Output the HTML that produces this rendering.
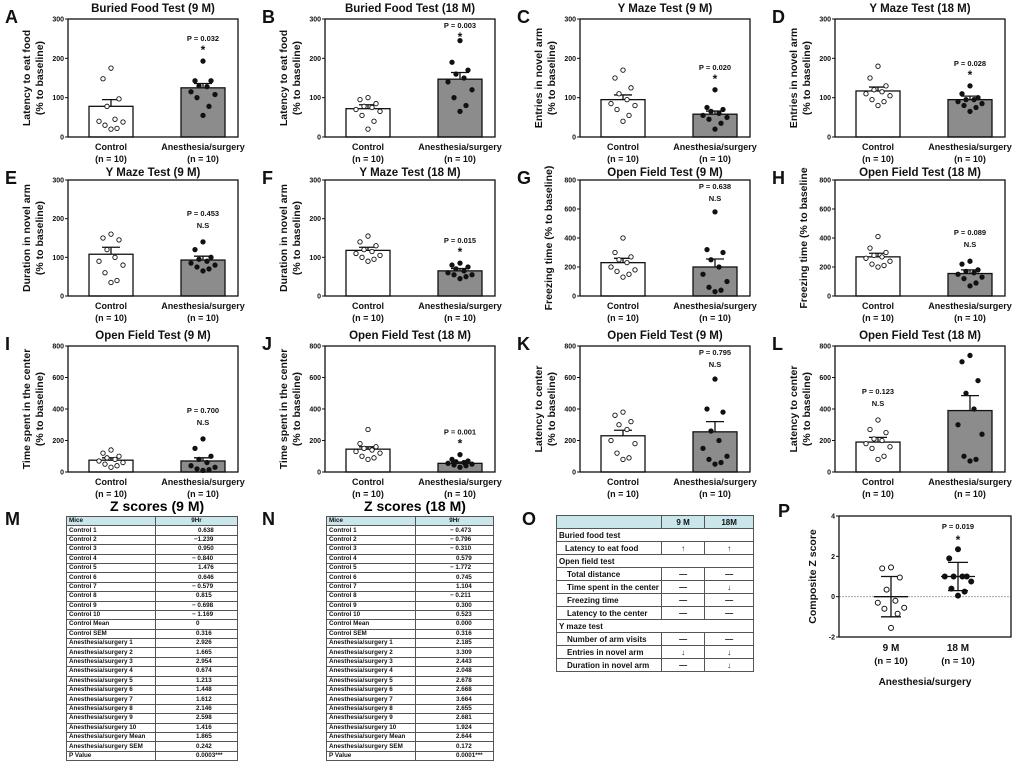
<!DOCTYPE html>
<html><head><meta charset="utf-8">
<style>
body{margin:0;background:#fff;font-family:"Liberation Sans",Arial,sans-serif;}
#wrap{position:relative;width:1020px;height:770px;overflow:hidden;}
svg{position:absolute;left:0;top:0;}
.tbl{position:absolute;border-collapse:collapse;font-family:"Liberation Sans",sans-serif;font-weight:bold;color:#111;}
.tbl td{border:1px solid #555;padding:0 2px;white-space:nowrap;overflow:hidden;}
.zt td{font-size:6.3px;height:8.4px;line-height:8px;}
.zt tr:first-child td{background:#c9e7ea;}
.ot td{font-size:8px;height:12px;line-height:11px;}
.ot tr:first-child td{background:#c9e7ea;text-align:center;}
.ttl{position:absolute;font-weight:bold;font-size:14px;}
</style></head><body>
<div id="wrap">
<svg id="fig" width="1020" height="770"></svg>

<div class="ttl" style="left:110px;top:498px">Z scores (9 M)</div>
<table class="tbl zt" style="left:66px;top:516px;width:172px">
<tr><td style="width:84px">Mice</td><td style="text-align:center">9Hr</td></tr>
<tr><td>Control 1</td><td style="padding-left:42px">0.638</td></tr>
<tr><td>Control 2</td><td style="padding-left:38px">−1.239</td></tr>
<tr><td>Control 3</td><td style="padding-left:42px">0.950</td></tr>
<tr><td>Control 4</td><td style="padding-left:36px">− 0.840</td></tr>
<tr><td>Control 5</td><td style="padding-left:42px">1.476</td></tr>
<tr><td>Control 6</td><td style="padding-left:42px">0.646</td></tr>
<tr><td>Control 7</td><td style="padding-left:36px">− 0.579</td></tr>
<tr><td>Control 8</td><td style="padding-left:40px">0.815</td></tr>
<tr><td>Control 9</td><td style="padding-left:36px">− 0.698</td></tr>
<tr><td>Control 10</td><td style="padding-left:36px">− 1.169</td></tr>
<tr><td>Control Mean</td><td style="padding-left:40px">0</td></tr>
<tr><td>Control SEM</td><td style="padding-left:40px">0.316</td></tr>
<tr><td>Anesthesia/surgery 1</td><td style="padding-left:40px">2.926</td></tr>
<tr><td>Anesthesia/surgery 2</td><td style="padding-left:40px">1.665</td></tr>
<tr><td>Anesthesia/surgery 3</td><td style="padding-left:40px">2.954</td></tr>
<tr><td>Anesthesia/surgery 4</td><td style="padding-left:40px">0.674</td></tr>
<tr><td>Anesthesia/surgery 5</td><td style="padding-left:40px">1.213</td></tr>
<tr><td>Anesthesia/surgery 6</td><td style="padding-left:40px">1.448</td></tr>
<tr><td>Anesthesia/surgery 7</td><td style="padding-left:40px">1.612</td></tr>
<tr><td>Anesthesia/surgery 8</td><td style="padding-left:40px">2.146</td></tr>
<tr><td>Anesthesia/surgery 9</td><td style="padding-left:40px">2.598</td></tr>
<tr><td>Anesthesia/surgery 10</td><td style="padding-left:40px">1.416</td></tr>
<tr><td>Anesthesia/surgery Mean</td><td style="padding-left:40px">1.865</td></tr>
<tr><td>Anesthesia/surgery SEM</td><td style="padding-left:40px">0.242</td></tr>
<tr><td>P Value</td><td style="padding-left:40px">0.0003***</td></tr>
</table>

<div class="ttl" style="left:364px;top:498px">Z scores (18 M)</div>
<table class="tbl zt" style="left:326px;top:516px;width:168px">
<tr><td style="width:84px">Mice</td><td style="text-align:center">9Hr</td></tr>
<tr><td>Control 1</td><td style="padding-left:34px">− 0.473</td></tr>
<tr><td>Control 2</td><td style="padding-left:34px">− 0.796</td></tr>
<tr><td>Control 3</td><td style="padding-left:34px">− 0.310</td></tr>
<tr><td>Control 4</td><td style="padding-left:40px">0.579</td></tr>
<tr><td>Control 5</td><td style="padding-left:34px">− 1.772</td></tr>
<tr><td>Control 6</td><td style="padding-left:40px">0.745</td></tr>
<tr><td>Control 7</td><td style="padding-left:40px">1.104</td></tr>
<tr><td>Control 8</td><td style="padding-left:34px">− 0.211</td></tr>
<tr><td>Control 9</td><td style="padding-left:40px">0.300</td></tr>
<tr><td>Control 10</td><td style="padding-left:40px">0.523</td></tr>
<tr><td>Control Mean</td><td style="padding-left:40px">0.000</td></tr>
<tr><td>Control SEM</td><td style="padding-left:40px">0.316</td></tr>
<tr><td>Anesthesia/surgery 1</td><td style="padding-left:40px">2.185</td></tr>
<tr><td>Anesthesia/surgery 2</td><td style="padding-left:40px">3.309</td></tr>
<tr><td>Anesthesia/surgery 3</td><td style="padding-left:40px">2.443</td></tr>
<tr><td>Anesthesia/surgery 4</td><td style="padding-left:40px">2.048</td></tr>
<tr><td>Anesthesia/surgery 5</td><td style="padding-left:40px">2.678</td></tr>
<tr><td>Anesthesia/surgery 6</td><td style="padding-left:40px">2.668</td></tr>
<tr><td>Anesthesia/surgery 7</td><td style="padding-left:40px">3.664</td></tr>
<tr><td>Anesthesia/surgery 8</td><td style="padding-left:40px">2.655</td></tr>
<tr><td>Anesthesia/surgery 9</td><td style="padding-left:40px">2.681</td></tr>
<tr><td>Anesthesia/surgery 10</td><td style="padding-left:40px">1.924</td></tr>
<tr><td>Anesthesia/surgery Mean</td><td style="padding-left:40px">2.644</td></tr>
<tr><td>Anesthesia/surgery SEM</td><td style="padding-left:40px">0.172</td></tr>
<tr><td>P Value</td><td style="padding-left:40px">0.0001***</td></tr>
</table>

<table class="tbl ot" style="left:556px;top:515px;width:198px">
<tr><td style="width:96px"></td><td>9 M</td><td>18M</td></tr>
<tr><td colspan="3">Buried food test</td></tr>
<tr><td style="padding-left:8px">Latency to eat food</td><td style="text-align:center">↑</td><td style="text-align:center">↑</td></tr>
<tr><td colspan="3">Open field test</td></tr>
<tr><td style="padding-left:10px">Total distance</td><td style="text-align:center">—</td><td style="text-align:center">—</td></tr>
<tr><td style="padding-left:10px">Time spent in the center</td><td style="text-align:center">—</td><td style="text-align:center">↓</td></tr>
<tr><td style="padding-left:10px">Freezing time</td><td style="text-align:center">—</td><td style="text-align:center">—</td></tr>
<tr><td style="padding-left:10px">Latency to the center</td><td style="text-align:center">—</td><td style="text-align:center">—</td></tr>
<tr><td colspan="3">Y maze test</td></tr>
<tr><td style="padding-left:10px">Number of arm visits</td><td style="text-align:center">—</td><td style="text-align:center">—</td></tr>
<tr><td style="padding-left:10px">Entries in novel arm</td><td style="text-align:center">↓</td><td style="text-align:center">↓</td></tr>
<tr><td style="padding-left:10px">Duration in novel arm</td><td style="text-align:center">—</td><td style="text-align:center">↓</td></tr>
</table>
</div>
<script>
const panelLetters = ["A","B","C","D","E","F","G","H","I","J","K","L"];
const panelTitles = ["Buried Food Test (9 M)","Buried Food Test (18 M)","Y  Maze Test (9 M)","Y  Maze Test (18 M)","Y  Maze Test (9 M)","Y  Maze Test (18 M)","Open Field Test (9 M)","Open Field Test (18 M)","Open Field Test (9 M)","Open Field Test (18 M)","Open Field Test (9 M)","Open Field Test (18 M)"];
const yLabels = [["Latency to eat food","(% to baseline)"],["Latency to eat food","(% to baseline)"],["Entries in novel arm","(% to baseline)"],["Entries in novel arm","(% to baseline)"],["Duration in novel arm","(% to baseline)"],["Duration in novel arm","(% to baseline)"],["Freezing time (% to baseline)"],["Freezing time (% to baseline"],["Time spent in the center","(% to baseline)"],["Time spent in the center","(% to baseline)"],["Latency to center","(% to baseline)"],["Latency to center","(% to baseline)"]];
const yMaxes = [300,300,300,300,300,300,800,800,800,800,800,800];
const tickSteps = [100,100,100,100,100,100,200,200,200,200,200,200];
const ctrlMeans = [78,72,95,117,108,118,230,270,75,145,230,190];
const ctrlSems = [17,10,12,10,18,8,30,25,15,15,35,30];
const anesMeans = [125,147,58,95,93,65,200,155,70,55,255,390];
const anesSems = [11,17,8,9,10,6,55,25,20,8,65,95];
const pValues = ["P = 0.032","P = 0.003","P = 0.020","P = 0.028","P = 0.453","P = 0.015","P = 0.638","P = 0.089","P = 0.700","P = 0.001","P = 0.795","P = 0.123"];
const sigMarks = ["*","*","*","*","N.S","*","N.S","N.S","N.S","*","N.S","N.S"];
const ctrlPoints = [
 [175,148,97,78,45,40,38,30,22,20],[100,95,85,78,75,70,65,55,40,20],[170,150,125,110,95,85,80,70,55,40],
 [180,150,130,120,115,110,105,95,90,80],[160,150,145,120,100,90,80,60,40,35],[155,140,130,120,115,110,105,100,95,90],
 [400,300,270,250,230,200,180,170,150,130],[410,330,300,280,270,260,240,220,210,200],[140,120,100,90,80,70,60,50,40,30],
 [270,180,160,150,140,130,120,100,90,80],[380,360,320,300,270,200,180,120,90,80],[330,270,250,210,200,180,160,150,100,80]];
const anesPoints = [
 [193,143,143,130,128,115,108,100,78,55],[245,190,170,160,150,140,120,100,80,65],[120,75,70,65,60,55,50,45,35,20],
 [130,110,100,95,95,90,85,80,75,65],[140,120,100,95,90,85,80,75,70,65],[85,80,75,70,65,60,55,55,50,45],
 [580,320,300,250,200,150,100,60,40,30],[240,220,180,170,160,150,130,120,90,70],[210,150,100,80,60,40,30,20,15,10],
 [110,80,70,65,60,55,50,45,40,30],[590,400,380,260,200,150,100,80,60,50],[740,700,580,500,400,300,240,100,80,70]];
const pAboveCtrl = [false,false,false,false,false,false,false,false,false,false,false,true];
// composite Z
const zGroups = ["9 M","18 M"];
const zPoints9 = [1.45,1.4,0.95,0.35,-0.2,-0.3,-0.55,-0.6,-0.85,-1.55];
const zPoints18 = [2.35,1.9,1.0,1.0,1.0,1.0,0.75,0.4,0.25,0.05];
const zMeans = [0,1.0];
const zSds = [1.0,0.7];
const zTicks = [-2,0,2,4];

const NS="http://www.w3.org/2000/svg";
const svg=document.getElementById("fig");
function mk(tag,attrs,parent){const e=document.createElementNS(NS,tag);for(const k in attrs)e.setAttribute(k,attrs[k]);(parent||svg).appendChild(e);return e;}
function txt(x,y,s,size,attrs,parent){const t=mk("text",Object.assign({x:x,y:y,"font-size":size,"font-weight":"bold","font-family":"Liberation Sans, sans-serif","text-anchor":"middle",fill:"#111"},attrs||{}),parent);t.textContent=s;return t;}
const colX=[68,325,580,835], rowTop=[19,180,346], rowBot=[137,296,472], titleOff=[7,4,7];
const jit=[0,-8,8,-4,4,-12,12,-6,6,0];
for(let i=0;i<12;i++){
  const g=mk("g",{});
  
  
  const row=Math.floor(i/4);
  const L=colX[i%4], R=L+170, T=rowTop[row], B=rowBot[row];
  const ys=v=>B-(v/yMaxes[i])*(B-T);
  const lx=(i%4===0)?5:L-63;
  const lt=txt(lx,T+4,panelLetters[i],18,{"text-anchor":"start"},g);
  
  
  const tt=txt((L+R)/2,T-titleOff[row],panelTitles[i],11.5,{},g);
  
  
  const yl=yLabels[i];
  yl.forEach((s,k)=>{const lxp=L-(yl.length===2?38:28)+k*13;const t=txt(lxp,(T+B)/2,s,10.5,{transform:`rotate(-90 ${lxp} ${(T+B)/2})`},g);
    });
  for(let v=0;v<=yMaxes[i];v+=tickSteps[i]){mk("line",{x1:L-3,x2:L,y1:ys(v),y2:ys(v),stroke:"#111","stroke-width":1},g);
    txt(L-4,ys(v)+2.5,String(v),7,{"text-anchor":"end"},g);}
  const cx=[L+43,L+135];
  const means=[ctrlMeans[i],anesMeans[i]], sems=[ctrlSems[i],anesSems[i]], pts=[ctrlPoints[i],anesPoints[i]];
  for(let b=0;b<2;b++){
    const r=mk("rect",{x:cx[b]-22,y:ys(means[b]),width:44,height:B-ys(means[b]),fill:b?"#8c8c8c":"#fff",stroke:"#111","stroke-width":1.3},g);
    
    
    mk("line",{x1:cx[b],x2:cx[b],y1:ys(means[b]),y2:ys(means[b]+sems[b]),stroke:"#111","stroke-width":1.3},g);
    mk("line",{x1:cx[b]-9,x2:cx[b]+9,y1:ys(means[b]+sems[b]),y2:ys(means[b]+sems[b]),stroke:"#111","stroke-width":1.3},g);
    pts[b].forEach((v,k)=>{const c=mk("circle",{cx:cx[b]+jit[k],cy:ys(v),r:2.2,fill:b?"#111":"#fff",stroke:"#111","stroke-width":0.9},g);
      });
  }
  mk("rect",{x:L,y:T,width:170,height:B-T,fill:"none",stroke:"#111","stroke-width":1.3},g);
  const pb=pAboveCtrl[i]?0:1, top=Math.max(...pts[pb]);
  const py=ys(top)-(sigMarks[i]==="*"?20:26);
  const pt=txt(cx[pb],Math.max(py,T+9),pValues[i],7.5,{},g);
  
  txt(cx[pb],Math.max(py,T+9)+(sigMarks[i]==="*"?13:12),sigMarks[i],sigMarks[i]==="*"?12:7.5,{},g);
  txt(cx[0],B+13,"Control",9,{},g);txt(cx[1],B+13,"Anesthesia/surgery",9,{},g);
  txt(cx[0],B+25,"(n = 10)",9,{},g);txt(cx[1],B+25,"(n = 10)",9,{},g);
}
// panel letters M N O P
[["M",5,525],["N",262,525],["O",522,525],["P",778,517]].forEach(a=>{const t=txt(a[1],a[2],a[0],18,{"text-anchor":"start"});
  });
// Panel P
(function(){
  const g=mk("g",{});
  
  
  const L=839,R=1011,T=516,B=637;
  const ys=v=>B-(v-(-2))/6*(B-T);
  const gx=[891,958];
  zTicks.forEach(v=>{mk("line",{x1:L-3,x2:L,y1:ys(v),y2:ys(v),stroke:"#111"},g);txt(L-4,ys(v)+2.5,String(v),7,{"text-anchor":"end"},g);});
  mk("line",{x1:L,x2:R,y1:ys(0),y2:ys(0),stroke:"#aaa","stroke-dasharray":"2,1"},g);
  [zPoints9,zPoints18].forEach((arr,b)=>{
    mk("line",{x1:gx[b],x2:gx[b],y1:ys(zMeans[b]-zSds[b]),y2:ys(zMeans[b]+zSds[b]),stroke:"#111","stroke-width":1.3},g);
    [zMeans[b]-zSds[b],zMeans[b]+zSds[b]].forEach(v=>mk("line",{x1:gx[b]-10,x2:gx[b]+10,y1:ys(v),y2:ys(v),stroke:"#111","stroke-width":1.3},g));
    mk("line",{x1:gx[b]-17,x2:gx[b]+17,y1:ys(zMeans[b]),y2:ys(zMeans[b]),stroke:"#111","stroke-width":1.3},g);
    arr.forEach((v,k)=>{const c=mk("circle",{cx:gx[b]+jit[k]*1.1,cy:ys(v),r:2.5,fill:b?"#111":"#fff",stroke:"#111"},g);
      });
    txt(gx[b],B+14,zGroups[b],10,{},g);txt(gx[b],B+27,"(n = 10)",9.5,{},g);
  });
  mk("rect",{x:L,y:T,width:R-L,height:B-T,fill:"none",stroke:"#111","stroke-width":1.3},g);
  txt(gx[1],529,"P = 0.019",7.5,{},g);txt(gx[1],544,"*",12,{},g);
  txt(L-23,(T+B)/2,"Composite Z score",10.5,{transform:`rotate(-90 ${L-23} ${(T+B)/2})`},g);
  txt(925,685,"Anesthesia/surgery",10,{},g);
})();
</script>
</body></html>
